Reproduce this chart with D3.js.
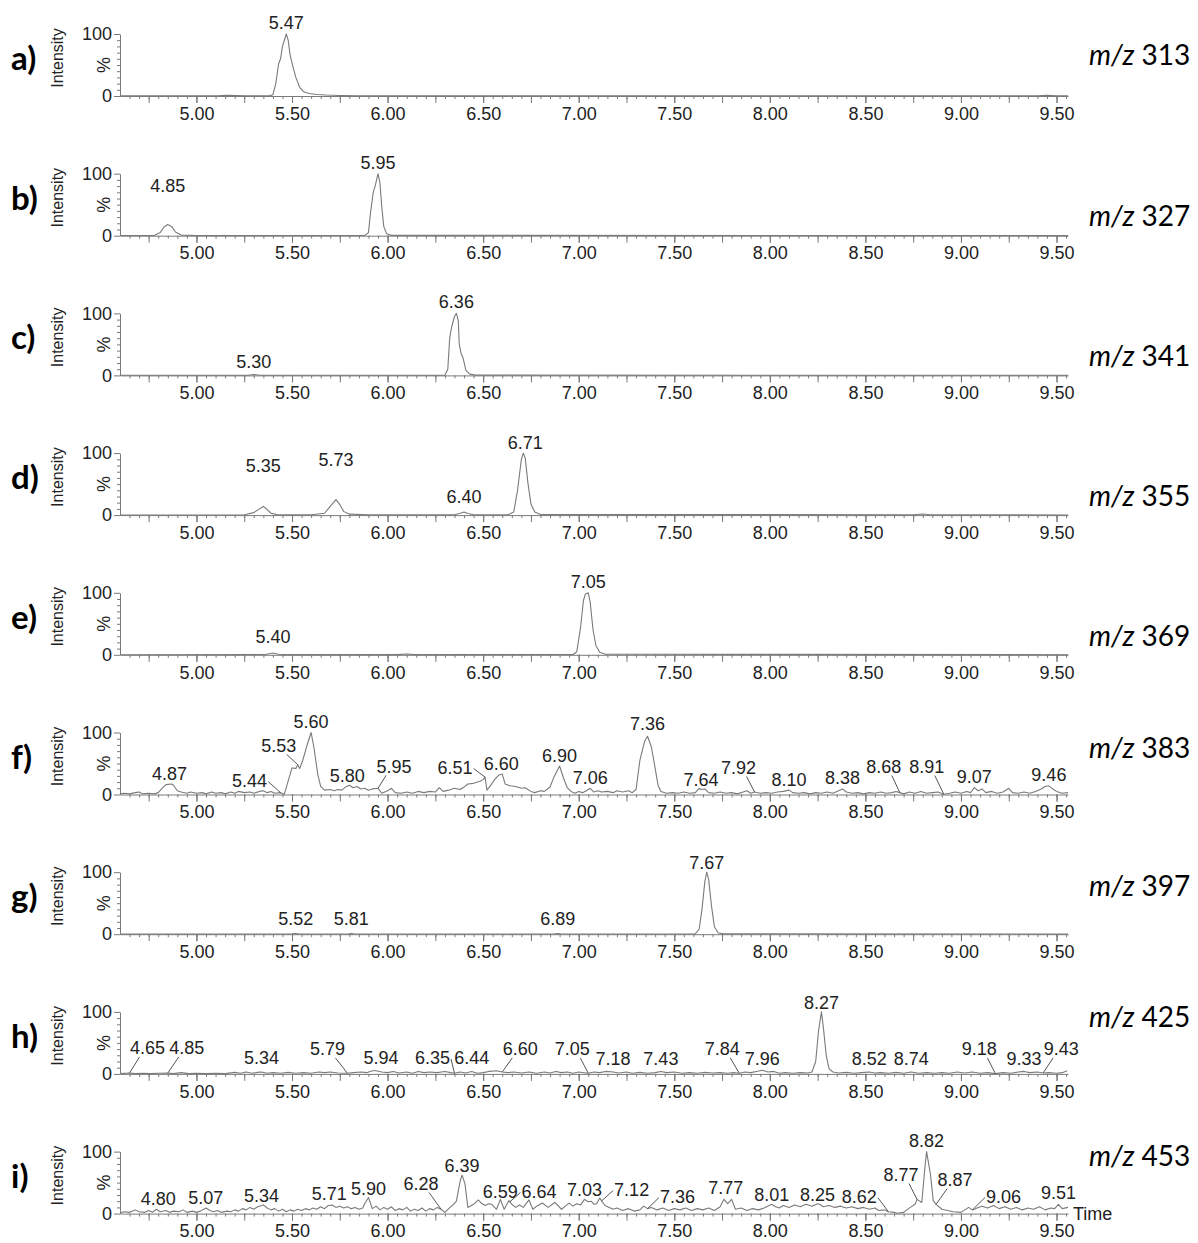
<!DOCTYPE html>
<html>
<head>
<meta charset="utf-8">
<script src="https://cdn.jsdelivr.net/npm/d3@7"></script>
<style>
  body { margin: 0; background: #fff; }
  svg text { font-family: "Liberation Sans", Arial, sans-serif; }
</style>
</head>
<body>
<svg id="chart" width="1198" height="1243"></svg>
<script>
// ---- Chromatogram data: [retention time (min), relative intensity (%)] ----
const trace313 = [[4.60,0.2],[4.80,0.3],[5.00,0.2],[5.12,0.6],[5.17,1.2],[5.21,0.8],[5.26,0.2],[5.38,0.2],[5.40,2],[5.415,20],[5.43,52],[5.44,60],[5.45,80],[5.47,100],[5.48,90],[5.49,66],[5.505,47],[5.52,30],[5.54,14],[5.56,7],[5.59,4],[5.63,2.5],[5.68,1.5],[5.75,0.8],[5.85,0.3],[6.50,0.2],[9.40,0.3],[9.45,1],[9.50,0.3],[9.56,0.2]];

const trace327 = [[4.60,0.3],[4.78,0.4],[4.81,5],[4.83,14],[4.85,18],[4.87,15],[4.89,6],[4.92,1],[5.00,0.3],[5.88,0.3],[5.90,5],[5.91,35],[5.925,70],[5.935,80],[5.95,100],[5.96,85],[5.97,45],[5.98,15],[5.995,3],[6.02,0.5],[9.56,0.2]];

const trace341 = [[4.60,0.2],[5.27,0.3],[5.30,1.5],[5.33,0.3],[6.30,0.3],[6.315,10],[6.325,60],[6.335,78],[6.35,95],[6.36,100],[6.37,88],[6.375,50],[6.385,35],[6.395,28],[6.41,8],[6.43,2],[6.46,0.5],[9.56,0.2]];

const trace355 = [[4.60,0.2],[5.25,0.5],[5.30,4],[5.33,10],[5.35,14],[5.37,9],[5.39,3],[5.42,0.8],[5.60,0.5],[5.67,3],[5.70,14],[5.73,25],[5.75,17],[5.77,6],[5.80,1.5],[5.90,0.5],[6.35,0.5],[6.38,3],[6.40,5],[6.42,2.5],[6.45,0.5],[6.63,0.5],[6.66,5],[6.68,40],[6.70,90],[6.71,100],[6.72,92],[6.735,50],[6.75,18],[6.77,5],[6.80,1],[8.75,0.5],[8.80,1.8],[8.84,0.5],[9.56,0.2]];

const trace369 = [[4.60,0.2],[5.36,0.4],[5.40,3],[5.43,1],[5.46,0.3],[6.05,0.3],[6.10,1.2],[6.14,0.3],[6.97,0.5],[6.99,5],[7.01,45],[7.025,88],[7.035,98],[7.05,100],[7.06,85],[7.075,40],[7.09,15],[7.11,4],[7.14,1],[9.56,0.2]];

const trace383 = [[4.60,1],[4.62,2],[4.65,1],[4.68,3],[4.70,4],[4.72,1],[4.75,2],[4.78,1],[4.80,3],[4.82,10],[4.84,16],[4.87,17],[4.88,15],[4.90,6],[4.92,4],[4.95,2],[4.97,4],[5.00,2],[5.03,3],[5.05,1],[5.08,4],[5.10,2],[5.13,3],[5.15,1],[5.18,4],[5.20,2],[5.22,5],[5.25,3],[5.28,4],[5.30,2],[5.33,5],[5.35,6],[5.37,3],[5.39,5],[5.41,2],[5.44,3],[5.46,0.5],[5.48,22],[5.50,43],[5.52,42],[5.53,48],[5.54,42],[5.555,54],[5.58,81],[5.60,100],[5.615,75],[5.635,32],[5.65,13],[5.67,7],[5.70,8],[5.72,6],[5.74,8],[5.76,7],[5.78,12],[5.80,15],[5.82,11],[5.84,13],[5.86,9],[5.88,10],[5.90,7],[5.92,9],[5.95,10],[5.97,2],[6.00,6],[6.02,10],[6.04,3],[6.07,2],[6.10,4],[6.13,2],[6.16,5],[6.19,3],[6.22,5],[6.25,4],[6.27,11],[6.29,5],[6.32,7],[6.35,10],[6.38,8],[6.40,12],[6.42,17],[6.45,18],[6.48,21],[6.50,24],[6.51,28],[6.52,7],[6.54,15],[6.56,24],[6.58,31],[6.60,33],[6.615,17],[6.64,14],[6.67,13],[6.70,10],[6.72,11],[6.75,5],[6.77,3],[6.80,6],[6.82,5],[6.85,12],[6.87,28],[6.90,46],[6.92,27],[6.94,11],[6.96,5],[6.98,2],[7.00,5],[7.02,3],[7.04,6],[7.06,10],[7.08,4],[7.10,6],[7.12,4],[7.15,5],[7.18,3],[7.20,6],[7.23,4],[7.26,6],[7.28,3],[7.30,8],[7.32,55],[7.345,86],[7.36,94],[7.38,77],[7.40,42],[7.415,15],[7.43,5],[7.46,2],[7.49,3],[7.52,2],[7.55,4],[7.58,2],[7.61,3],[7.63,10],[7.64,8],[7.66,9],[7.68,3],[7.71,2],[7.74,4],[7.77,2],[7.80,3],[7.83,1],[7.86,4],[7.88,6],[7.90,2],[7.92,4],[7.95,2],[7.98,3],[8.01,2],[8.04,4],[8.07,5],[8.10,7],[8.12,3],[8.15,2],[8.18,3],[8.21,1],[8.24,3],[8.27,2],[8.30,4],[8.33,2],[8.36,6],[8.38,9],[8.40,4],[8.43,2],[8.46,3],[8.49,1],[8.52,3],[8.55,2],[8.58,4],[8.61,2],[8.64,3],[8.66,5],[8.68,3],[8.70,1],[8.73,4],[8.76,2],[8.79,5],[8.82,2],[8.85,3],[8.88,4],[8.91,0.5],[8.94,2],[8.97,4],[9.00,2],[9.03,5],[9.05,3],[9.07,11],[9.09,6],[9.11,9],[9.13,3],[9.16,5],[9.19,2],[9.22,4],[9.25,10],[9.27,3],[9.30,2],[9.33,4],[9.36,2],[9.39,5],[9.42,9],[9.44,13],[9.46,14],[9.48,9],[9.50,5],[9.53,2],[9.56,3]];

const trace397 = [[4.60,0.2],[5.50,0.5],[5.52,1.2],[5.54,0.4],[5.79,0.4],[5.81,1],[5.83,0.3],[6.87,0.3],[6.89,1],[6.91,0.3],[7.61,0.5],[7.63,8],[7.645,40],[7.66,85],[7.67,100],[7.68,88],[7.695,45],[7.71,12],[7.73,2],[7.76,0.5],[9.56,0.2]];

const trace425 = [[4.60,0.5],[4.65,1.5],[4.68,0.5],[4.72,1],[4.76,0.5],[4.80,1],[4.85,1.5],[4.88,0.5],[4.92,2],[4.96,0.5],[5.00,1],[5.05,0.5],[5.10,1],[5.15,0.5],[5.20,2.5],[5.23,1],[5.26,3],[5.29,1],[5.32,2.5],[5.34,3],[5.37,1],[5.40,2],[5.44,1],[5.48,2.5],[5.52,1],[5.56,2],[5.60,1],[5.64,3],[5.67,2],[5.70,3],[5.74,1.5],[5.79,1],[5.82,2],[5.86,3],[5.89,2],[5.92,5],[5.94,5],[5.97,3],[6.00,2],[6.03,4],[6.06,1.5],[6.10,3],[6.13,1],[6.16,4],[6.19,2],[6.22,3],[6.26,2],[6.30,4],[6.33,2],[6.35,1],[6.38,3],[6.41,1.5],[6.44,4],[6.47,1],[6.50,2],[6.53,4],[6.57,5],[6.60,3],[6.63,2],[6.66,3],[6.70,1.5],[6.74,3],[6.78,1],[6.82,3],[6.85,1.5],[6.88,4],[6.91,2],[6.94,3],[6.97,1],[7.00,3],[7.05,1],[7.08,3],[7.11,2],[7.14,4],[7.18,3],[7.21,1.5],[7.25,3],[7.28,1],[7.32,2.5],[7.36,1],[7.40,2],[7.43,4],[7.46,2],[7.50,3],[7.54,1],[7.58,2],[7.62,1],[7.66,2.5],[7.70,1.5],[7.74,2],[7.78,1],[7.81,2],[7.84,1],[7.87,3],[7.90,2],[7.93,4],[7.96,6],[7.99,3],[8.02,4],[8.05,1],[8.08,2],[8.12,1],[8.16,2],[8.20,1.5],[8.22,3],[8.24,20],[8.255,70],[8.27,100],[8.28,75],[8.295,30],[8.31,8],[8.33,3],[8.36,1.5],[8.40,2.5],[8.44,1],[8.48,2],[8.52,3],[8.55,1.5],[8.58,2],[8.62,1],[8.66,2.5],[8.70,1],[8.74,3],[8.78,1],[8.82,2],[8.86,1],[8.90,2],[8.94,1],[8.98,3],[9.02,1.5],[9.06,3],[9.10,1],[9.14,2],[9.18,0.5],[9.22,2],[9.26,1],[9.30,3],[9.33,4],[9.36,2],[9.40,3],[9.43,1.5],[9.46,2],[9.50,1],[9.53,2],[9.555,5]];

const trace453 = [[4.60,1],[4.62,3],[4.65,2],[4.68,6],[4.70,3],[4.73,2],[4.75,5],[4.77,2],[4.79,7],[4.81,3],[4.84,5],[4.86,2],[4.88,4],[4.91,3],[4.93,6],[4.95,2],[4.98,4],[5.00,2],[5.02,4],[5.05,9],[5.07,5],[5.09,3],[5.11,5],[5.13,2],[5.16,4],[5.18,3],[5.20,6],[5.22,4],[5.24,8],[5.26,6],[5.28,10],[5.30,7],[5.32,11],[5.35,14],[5.37,9],[5.39,6],[5.41,8],[5.43,4],[5.45,7],[5.47,3],[5.49,6],[5.51,4],[5.53,7],[5.55,5],[5.57,8],[5.59,6],[5.61,9],[5.63,7],[5.65,11],[5.67,8],[5.69,13],[5.71,14],[5.73,10],[5.75,12],[5.77,9],[5.79,11],[5.81,8],[5.83,10],[5.85,7],[5.87,9],[5.88,16],[5.90,26],[5.92,8],[5.94,12],[5.96,6],[5.98,10],[6.00,7],[6.02,11],[6.04,5],[6.06,8],[6.08,6],[6.10,10],[6.12,4],[6.14,7],[6.16,5],[6.18,9],[6.20,4],[6.22,8],[6.24,6],[6.26,10],[6.28,7],[6.30,2],[6.32,8],[6.345,15],[6.36,20],[6.38,53],[6.39,62],[6.405,48],[6.42,10],[6.45,15],[6.475,22],[6.49,17],[6.51,13],[6.53,16],[6.545,15],[6.57,7],[6.59,23],[6.61,7],[6.635,21],[6.65,15],[6.67,10],[6.69,14],[6.71,10],[6.74,22],[6.76,7],[6.78,12],[6.81,17],[6.84,10],[6.875,18],[6.91,7],[6.93,12],[6.95,17],[6.97,12],[6.99,16],[7.01,14],[7.03,23],[7.05,19],[7.065,20],[7.08,15],[7.094,16],[7.11,25],[7.137,13],[7.16,10],[7.18,7],[7.20,9],[7.23,5],[7.26,8],[7.29,4],[7.32,6],[7.34,12],[7.36,8],[7.38,10],[7.41,6],[7.44,9],[7.47,5],[7.50,8],[7.53,6],[7.56,9],[7.59,5],[7.62,8],[7.65,6],[7.68,9],[7.71,5],[7.74,11],[7.76,23],[7.78,16],[7.80,23],[7.82,7],[7.85,9],[7.88,5],[7.91,8],[7.94,6],[7.97,9],[8.01,15],[8.03,11],[8.05,9],[8.07,13],[8.10,10],[8.13,14],[8.16,11],[8.19,15],[8.22,12],[8.25,16],[8.26,15],[8.28,11],[8.31,13],[8.34,10],[8.37,12],[8.40,9],[8.43,11],[8.46,8],[8.49,10],[8.52,7],[8.55,9],[8.57,5],[8.60,6],[8.62,3],[8.65,2],[8.665,0.5],[8.70,2],[8.735,10],[8.76,15],[8.77,23],[8.795,18],[8.81,70],[8.82,100],[8.84,64],[8.855,21],[8.87,15],[8.90,7],[8.93,5],[8.96,3],[9.00,2],[9.04,10],[9.06,6],[9.07,7],[9.09,10],[9.11,12],[9.14,9],[9.17,13],[9.20,8],[9.23,11],[9.26,7],[9.29,10],[9.32,6],[9.35,9],[9.38,7],[9.41,11],[9.44,6],[9.47,9],[9.49,8],[9.51,15],[9.53,8],[9.56,10]];

// ---- Panel identifiers ----
const panelLetters = ["a)", "b)", "c)", "d)", "e)", "f)", "g)", "h)", "i)"];
const massValues = ["313", "327", "341", "355", "369", "383", "397", "425", "453"];
const traces = [trace313, trace327, trace341, trace355, trace369, trace383, trace397, trace425, trace453];

// ---- Peak annotations (retention times as printed) ----
const peaks313 = ["5.47"];
const peaks327 = ["4.85", "5.95"];
const peaks341 = ["5.30", "6.36"];
const peaks355 = ["5.35", "5.73", "6.40", "6.71"];
const peaks369 = ["5.40", "7.05"];
const peaks383 = ["4.87", "5.44", "5.53", "5.60", "5.80", "5.95", "6.51", "6.60", "6.90", "7.06", "7.36", "7.64", "7.92", "8.10", "8.38", "8.68", "8.91", "9.07", "9.46"];
const peaks397 = ["5.52", "5.81", "6.89", "7.67"];
const peaks425 = ["4.65", "4.85", "5.34", "5.79", "5.94", "6.35", "6.44", "6.60", "7.05", "7.18", "7.43", "7.84", "7.96", "8.27", "8.52", "8.74", "9.18", "9.33", "9.43"];
const peaks453 = ["4.80", "5.07", "5.34", "5.71", "5.90", "6.28", "6.39", "6.59", "6.64", "7.03", "7.12", "7.36", "7.77", "8.01", "8.25", "8.62", "8.77", "8.82", "8.87", "9.06", "9.51"];
const peakLists = [peaks313, peaks327, peaks341, peaks355, peaks369, peaks383, peaks397, peaks425, peaks453];

// ---- Axis tick values ----
const xLabelTicks = [5.00, 5.50, 6.00, 6.50, 7.00, 7.50, 8.00, 8.50, 9.00, 9.50];
const yLabelTicks = [0, 100];

// ---- Annotation placement: [horizontal shift px, baseline height above axis px, leader style]
// leader style: 0 none, 1 from under the label, 2 from the label's side
const labelPlacement = [
  [[0, 67, 0]],
  [[0, 44, 0], [0, 67, 0]],
  [[0, 7, 0], [0, 67, 0]],
  [[0, 43, 0], [0, 49, 0], [0, 12, 0], [2, 66, 0]],
  [[0, 12, 0], [0, 67, 0]],
  [[-2, 15, 0], [-31, 8, 2], [-19, 43, 1], [0, 67, 0], [-2, 13, 0], [16, 22, 1], [-30, 21, 2], [-1, 25, 0], [0, 33, 0], [0, 11, 0], [0, 65, 0], [0, 9, 0], [-16, 21, 1], [0, 9, 0], [0, 11, 0], [-16, 22, 1], [-17, 22, 1], [0, 12, 0], [0, 14, 0]],
  [[0, 9, 0], [0, 9, 0], [0, 9, 0], [0, 65, 0]],
  [[18, 20, 1], [19, 20, 1], [0, 10, 0], [-20, 19, 1], [5, 10, 0], [-22, 10, 2], [0, 10, 0], [18, 19, 1], [-16, 19, 1], [0, 9, 0], [0, 9, 0], [-17, 19, 1], [0, 9, 0], [0, 65, 0], [0, 9, 0], [0, 9, 0], [-16, 19, 1], [0, 9, 0], [18, 19, 1]],
  [[0, 9, 0], [-4, 10, 0], [0, 12, 0], [-3, 14, 0], [0, 19, 0], [-20, 24, 1], [0, 42, 0], [0, 16, 0], [29, 16, 2], [0, 18, 0], [30, 18, 2], [30, 11, 2], [0, 20, 0], [0, 13, 0], [0, 13, 0], [-29, 11, 2], [-16, 33, 1], [0, 67, 0], [19, 28, 1], [31, 11, 2], [0, 15, 0]]
];
// vertical placement of the ion label relative to each panel's baseline
const massLabelLift = [31, 10, 9, 9, 9, 37, 38, 47, 48];

// ---- Layout ----
const svg = d3.select("#chart");
const firstBase = 96, panelStep = 139.7, plotHeight = 62;
const x = d3.scaleLinear().domain([4.60, 9.56]).range([120, 1068]);

const axisColor = "#7a7a7a", traceColor = "#7a7a7a", textColor = "#222";
const fmt = d3.format(".2f");
const minorX = d3.range(465, 957, 5).map(v => v / 100);
const majorX = d3.range(475, 957, 25).map(v => v / 100);
const minorY = d3.range(10, 100, 10);

// interpolated intensity at a retention time, used for leader-line targets
function valueAt(trace, t) {
  const i = d3.bisector(d => d[0]).left(trace, t);
  if (i <= 0) return trace[0][1];
  if (i >= trace.length) return trace[trace.length - 1][1];
  const a = trace[i - 1], b = trace[i];
  return a[1] + (b[1] - a[1]) * (t - a[0]) / (b[0] - a[0]);
}

panelLetters.forEach((letter, k) => {
  const base = firstBase + k * panelStep;
  const y = d3.scaleLinear().domain([0, 100]).range([base, base - plotHeight]);
  const g = svg.append("g");
  const trace = traces[k];

  // x axis: minor, quarter and labelled ticks
  g.append("g").attr("transform", `translate(0,${base})`)
    .call(d3.axisBottom(x).tickValues(minorX).tickSize(3).tickSizeOuter(0).tickFormat(""))
    .call(s => s.selectAll("path,line").attr("stroke", axisColor));
  g.append("g").attr("transform", `translate(0,${base})`)
    .call(d3.axisBottom(x).tickValues(majorX).tickSize(7).tickSizeOuter(0).tickFormat(""))
    .call(s => s.select(".domain").remove())
    .call(s => s.selectAll("line").attr("stroke", axisColor));
  g.append("g").attr("transform", `translate(0,${base})`)
    .call(d3.axisBottom(x).tickValues(xLabelTicks).tickSize(7).tickPadding(4).tickSizeOuter(0).tickFormat(fmt))
    .call(s => s.select(".domain").remove())
    .call(s => s.selectAll("line").attr("stroke", axisColor))
    .call(s => s.selectAll("text").attr("fill", textColor).style("font-size", "18px").style("font-family", "'Liberation Sans', Arial, sans-serif"));

  // y axis
  g.append("g").attr("transform", "translate(120,0)")
    .call(d3.axisLeft(y).tickValues(minorY).tickSize(3).tickSizeOuter(0).tickFormat(""))
    .call(s => s.selectAll("path,line").attr("stroke", axisColor));
  g.append("g").attr("transform", "translate(120,0)")
    .call(d3.axisLeft(y).tickValues(yLabelTicks).tickSize(6).tickPadding(2).tickSizeOuter(0).tickFormat(d3.format("d")))
    .call(s => s.select(".domain").remove())
    .call(s => s.selectAll("line").attr("stroke", axisColor))
    .call(s => s.selectAll("text").attr("fill", textColor).style("font-size", "18px").style("font-family", "'Liberation Sans', Arial, sans-serif"));

  // axis titles
  g.append("text").attr("transform", `translate(104,${y(50)}) rotate(-90)`)
    .attr("text-anchor", "middle").attr("dy", "0.35em")
    .attr("fill", textColor).style("font-size", "18px").text("%");
  g.append("text").attr("transform", `translate(57,${base - 38}) rotate(-90)`)
    .attr("text-anchor", "middle").attr("dy", "0.35em")
    .attr("fill", textColor).style("font-size", "16px").text("Intensity");

  // chromatogram trace
  g.append("path").datum(trace)
    .attr("fill", "none").attr("stroke", traceColor).attr("stroke-width", 1.1)
    .attr("stroke-linejoin", "round")
    .attr("d", d3.line().x(d => x(d[0])).y(d => y(d[1])));

  // peak annotations
  peakLists[k].forEach((label, j) => {
    const [dx, lift, leader] = labelPlacement[k][j];
    const t = +label;
    const cx = x(t) + dx, by = base - lift;
    const txt = g.append("text").attr("x", cx).attr("y", by)
      .attr("text-anchor", "middle").attr("fill", textColor)
      .style("font-size", "18px").text(label);
    if (leader) {
      const w = txt.node().getComputedTextLength();
      const side = dx < 0 ? 1 : -1;
      const sx = leader === 1 ? cx + side * 8 : cx + side * (w / 2 + 1);
      const sy = leader === 1 ? by + 3 : by - 5;
      g.append("line")
        .attr("x1", sx).attr("y1", sy)
        .attr("x2", x(t)).attr("y2", y(valueAt(trace, t)))
        .attr("stroke", "#555").attr("stroke-width", 1);
    }
  });

  // panel letter and ion label
  svg.append("text").attr("x", 11).attr("y", base - 26)
    .style("font-family", "Lato, 'Open Sans', sans-serif").style("font-weight", 700)
    .style("font-size", "33px").attr("fill", "#000").text(letter);
  const mz = svg.append("text").attr("x", 1089).attr("y", base - massLabelLift[k])
    .style("font-family", "Lato, 'Open Sans', sans-serif").style("font-size", "28px").attr("fill", "#000");
  mz.append("tspan").style("font-style", "italic").text("m/z");
  mz.append("tspan").text(" " + massValues[k]);

  if (k === panelLetters.length - 1) {
    g.append("text").attr("x", 1073).attr("y", base + 6)
      .attr("fill", textColor).style("font-size", "18px").text("Time");
  }
});
</script>
</body>
</html>
